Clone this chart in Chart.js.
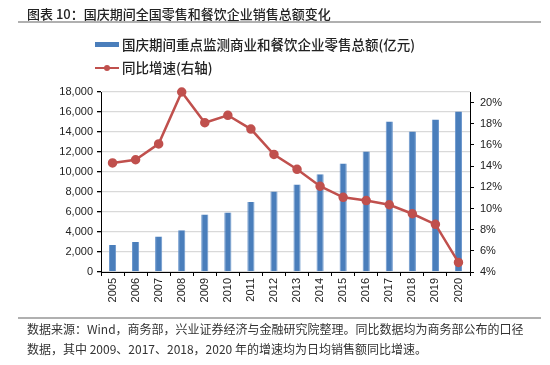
<!DOCTYPE html>
<html>
<head>
<meta charset="utf-8">
<script src="https://cdn.jsdelivr.net/npm/chart.js@4"></script>
<style>
  body { margin: 0; background: #fff; }
  #wrap { position: relative; width: 550px; height: 365px; overflow: hidden;
          font-family: "Noto Sans CJK SC", "Liberation Sans", sans-serif; color: #222; }
  #wrap canvas { position: absolute; left: 0; top: 0; }
  .txt { position: absolute; white-space: nowrap; }
  .hr { position: absolute; left: 18px; width: 523px; height: 2px; background: #b0b0b0; }
</style>
</head>
<body>
<div id="wrap">
  <canvas id="chart" width="550" height="365"></canvas>
  <div class="txt" style="left:27px; top:4px; font-size:13px; font-weight:500;">图表 10：国庆期间全国零售和餐饮企业销售总额变化</div>
  <div class="hr" style="top:21px;"></div>

  <!-- leyenda -->
  <div style="position:absolute; left:95px; top:42px; width:24px; height:5px; background:#4a7ebb;"></div>
  <div class="txt" style="left:122px; top:34px; font-size:13.5px; font-weight:500;">国庆期间重点监测商业和餐饮企业零售总额(亿元)</div>
  <div style="position:absolute; left:95px; top:67px; width:24px; height:2px; background:#c0504d;"></div>
  <div style="position:absolute; left:104px; top:65px; width:6px; height:6px; border-radius:50%; background:#c0504d;"></div>
  <div class="txt" style="left:122px; top:57px; font-size:13.5px; font-weight:500;">同比增速(右轴)</div>

  <div class="hr" style="top:317px;"></div>
  <div class="txt" style="left:27px; top:320px; font-size:12px; color:#333;">数据来源：Wind，商务部，兴业证券经济与金融研究院整理。同比数据均为商务部公布的口径</div>
  <div class="txt" style="left:27px; top:340px; font-size:12px; color:#333;">数据，其中 2009、2017、2018，2020 年的增速均为日均销售额同比增速。</div>
</div>
<script>
// Datos
const years = ['2005', '2006', '2007', '2008', '2009', '2010', '2011', '2012',
               '2013', '2014', '2015', '2016', '2017', '2018', '2019', '2020'];
// Ventas totales (亿元)
const sales = [2700, 3000, 3540, 4170, 5740, 5940, 7000, 8040,
               8740, 9770, 10840, 12040, 15040, 14040, 15240, 16040];
// Crecimiento interanual (%)
const growth = [14.3, 14.6, 16.1, 21.0, 18.1, 18.8, 17.5, 15.1,
                13.7, 12.1, 11.05, 10.75, 10.35, 9.5, 8.5, 4.9];
// Marcas del eje derecho (%)
const rightTicks = [4, 6, 8, 10, 12, 14, 16, 18, 20];

const tickFont = { family: '"Liberation Sans", Arial, sans-serif', size: 11 };

const ctx = document.getElementById('chart').getContext('2d');
new Chart(ctx, {
    data: {
        labels: years,
        datasets: [{
            type: 'line',
            label: '同比增速(右轴)',
            data: growth,
            yAxisID: 'y1',
            borderColor: '#c0504d',
            backgroundColor: '#c0504d',
            borderWidth: 2.5,
            pointRadius: 3.5,
            pointHoverRadius: 3.5,
            tension: 0,
            clip: false,
            order: 0
        }, {
            type: 'bar',
            label: '国庆期间重点监测商业和餐饮企业零售总额(亿元)',
            data: sales,
            yAxisID: 'y',
            backgroundColor: '#4a7ebb',
            borderColor: '#6a96cc',
            borderWidth: { left: 1, right: 1, top: 0, bottom: 0 },
            barPercentage: 0.31,
            categoryPercentage: 1,
            order: 1
        }]
    },
    options: {
        responsive: false,
        animation: false,
        layout: { padding: { top: 92, left: 0, right: 0, bottom: 0 } },
        plugins: { legend: { display: false }, tooltip: { enabled: false } },
        scales: {
            x: {
                offset: true,
                grid: { offset: true, drawOnChartArea: false, tickLength: 4, tickColor: '#000' },
                border: { color: '#000', width: 1 },
                ticks: { font: tickFont, color: '#222', minRotation: 90, maxRotation: 90, autoSkip: false, padding: 2 },
                afterFit: s => { s.height = 93; }
            },
            y: {
                position: 'left',
                min: 0,
                max: 18000,
                ticks: {
                    stepSize: 2000,
                    font: tickFont,
                    color: '#222',
                    padding: 4,
                    callback: v => v.toLocaleString('en-US')
                },
                grid: { color: '#d9d9d9', lineWidth: 1.3, tickLength: 4, tickColor: '#000' },
                border: { color: '#000', width: 1 },
                afterFit: s => { s.width = 101; }
            },
            y1: {
                position: 'right',
                min: 4,
                max: 21,
                afterBuildTicks: s => { s.ticks = rightTicks.map(v => ({ value: v })); },
                ticks: {
                    font: tickFont,
                    color: '#222',
                    padding: 6,
                    callback: v => v + '%'
                },
                grid: { drawOnChartArea: false, tickLength: 4, tickColor: '#000' },
                border: { color: '#000', width: 1 },
                afterFit: s => { s.width = 80; }
            }
        }
    }
});
</script>
</body>
</html>
